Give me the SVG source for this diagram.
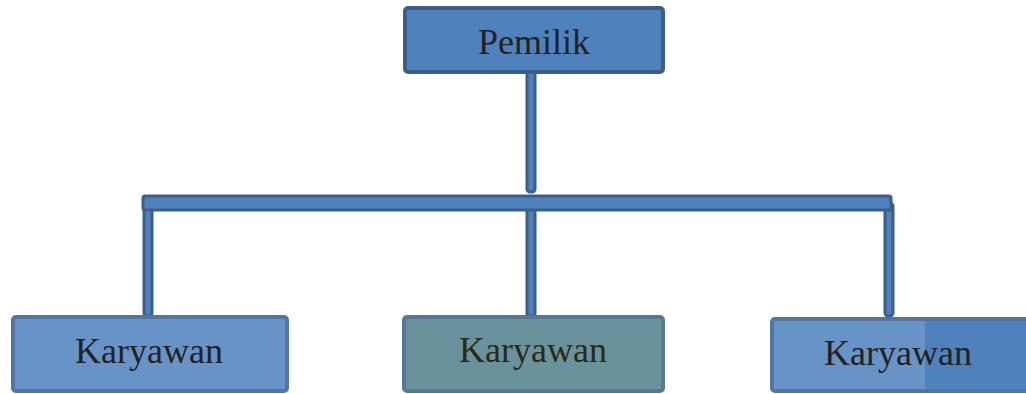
<svg xmlns="http://www.w3.org/2000/svg" width="1026" height="394" viewBox="0 0 1026 394">
<style>
.box{stroke-width:4}
.lbl{font-family:"Liberation Serif","Times New Roman",serif;font-size:36px;text-anchor:middle;fill:#222}
.con{fill:#4f81bd;stroke:#3b5f8a;stroke-width:3}
</style>
<rect width="1026" height="394" fill="#ffffff"/>
<g id="connectors">
<rect class="con" x="527" y="70" width="8" height="122" rx="3"/>
<rect class="con" x="144" y="197" width="8" height="119" rx="3"/>
<rect class="con" x="527" y="206" width="8" height="110" rx="2"/>
<rect class="con" x="885" y="203" width="8" height="113" rx="3"/>
<rect class="con" x="143" y="196" width="748" height="14" rx="2"/>
</g>
<g id="pemilik">
<rect class="box" x="405" y="8" width="258" height="64" rx="3" fill="#4f81bd" stroke="#3b5f8a"/>
<text class="lbl" x="534" y="54">Pemilik</text>
</g>
<g id="karyawan1">
<rect class="box" x="13" y="317" width="274" height="74" rx="3" fill="#6893c6" stroke="#52769f"/>
<text class="lbl" x="149" y="363">Karyawan</text>
</g>
<g id="karyawan2">
<rect class="box" x="404" y="317" width="259" height="74" rx="3" fill="#6a929c" stroke="#557895"/>
<text class="lbl" x="533" y="362" fill="#2b2a12" style="fill:#2b2a12">Karyawan</text>
</g>
<g id="karyawan3">
<rect class="box" x="772" y="319" width="260" height="72" rx="3" fill="#6893c6" stroke="#52769f"/>
<rect x="925" y="321" width="101" height="68" fill="#4f81bd"/>
<text class="lbl" x="898" y="365">Karyawan</text>
</g>
</svg>
